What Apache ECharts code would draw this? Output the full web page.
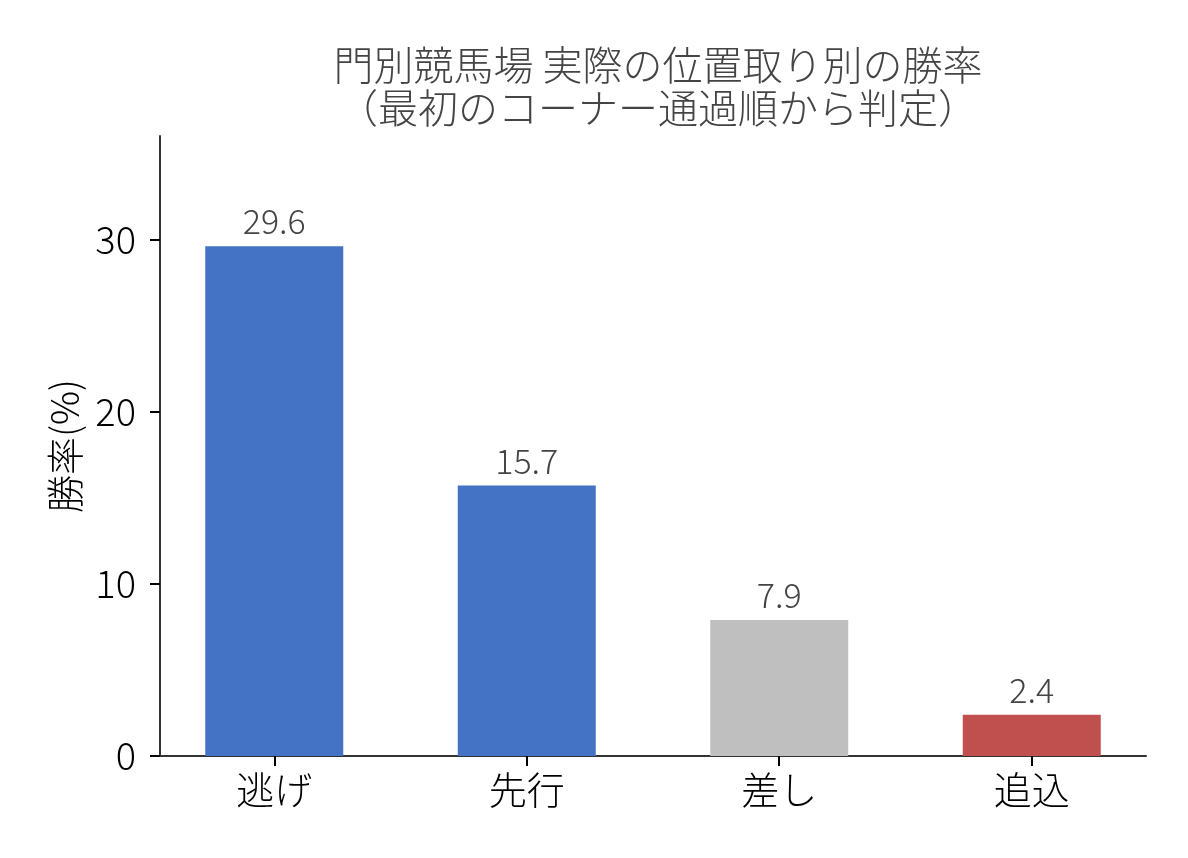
<!DOCTYPE html>
<html>
<head>
<meta charset="utf-8">
<script src="https://cdn.jsdelivr.net/npm/echarts@6/dist/echarts.min.js"></script>
<style>
  html, body { margin: 0; padding: 0; background: #fff; }
  #main { width: 1188px; height: 858px; }
</style>
</head>
<body>
<div id="main"></div>
<script>
// 位置取り別の勝率
var categories = ['逃げ', '先行', '差し', '追込'];
var winRates = [29.6, 15.7, 7.9, 2.4];
var barColors = ['#4472C4', '#4472C4', '#BFBFBF', '#C0504D'];
var yTicks = [0, 10, 20, 30];

(function () {
    var font = '"Noto Sans CJK JP", "Noto Sans", sans-serif';
    var myChart = echarts.init(document.getElementById('main'));

    var barData = winRates.map(function (v, i) {
        return {
            value: [i, v],
            itemStyle: { color: barColors[i] }
        };
    });

    var option = {
        backgroundColor: '#fff',
        animation: false,
        title: {
            text: '門別競馬場 実際の位置取り別の勝率\n（最初のコーナー通過順から判定）',
            left: 653,
            textAlign: 'center',
            top: 38,
            textStyle: {
                fontFamily: font,
                fontSize: 40,
                fontWeight: 300,
                color: '#444',
                lineHeight: 43
            }
        },
        grid: {
            left: 160,
            right: 42,
            top: 136,
            bottom: 102
        },
        xAxis: {
            type: 'value',
            min: -0.4525,
            max: 3.4525,
            splitLine: { show: false },
            axisLine: { show: true, onZero: false, lineStyle: { color: '#333', width: 2 } },
            axisTick: {
                show: true,
                customValues: [0, 1, 2, 3],
                length: 10,
                lineStyle: { color: '#000', width: 2 }
            },
            axisLabel: {
                customValues: [0, 1, 2, 3],
                margin: 15,
                fontFamily: font,
                fontSize: 38,
                fontWeight: 300,
                color: '#000',
                formatter: function (v) {
                    return categories[Math.round(v)];
                }
            }
        },
        yAxis: {
            type: 'value',
            min: 0,
            max: 36,
            name: '勝率(%)',
            nameLocation: 'middle',
            nameGap: 76,
            nameRotate: 90,
            nameTextStyle: {
                fontFamily: font,
                fontSize: 38,
                fontWeight: 300,
                color: '#000'
            },
            splitLine: { show: false },
            axisLine: { show: true, onZero: false, lineStyle: { color: '#333', width: 2 } },
            axisTick: {
                show: true,
                customValues: yTicks,
                length: 10,
                lineStyle: { color: '#000', width: 2 }
            },
            axisLabel: {
                customValues: yTicks,
                margin: 24,
                fontFamily: font,
                fontSize: 38,
                fontWeight: 300,
                color: '#000'
            }
        },
        series: [
            {
                type: 'bar',
                barWidth: 138,
                data: barData,
                label: {
                    show: true,
                    position: 'top',
                    distance: 8,
                    fontFamily: font,
                    fontSize: 34,
                    fontWeight: 300,
                    color: '#444',
                    formatter: function (p) {
                        return p.value[1].toFixed(1);
                    }
                }
            }
        ]
    };

    myChart.setOption(option);
})();
</script>
</body>
</html>
